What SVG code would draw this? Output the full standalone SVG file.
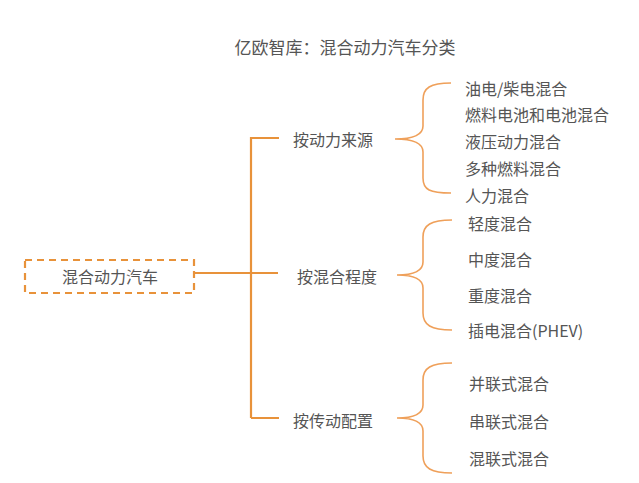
<svg xmlns="http://www.w3.org/2000/svg" width="639" height="483" viewBox="0 0 639 483">
<style>
text{font-family:"Noto Sans CJK SC","Noto Sans",sans-serif;fill:#555;font-size:16px;dominant-baseline:central}
.title{font-size:17px}
.trunk{fill:none;stroke:#E8923A;stroke-width:2.2}
.brace{fill:none;stroke:#EFA05A;stroke-width:1.6}
.box{fill:none;stroke:#E8923A;stroke-width:2.2;stroke-dasharray:7 5}
</style>
<rect width="639" height="483" fill="#fff"/>
<text class="title" x="345" y="46" text-anchor="middle">亿欧智库：混合动力汽车分类</text>
<g id="connectors">
<path class="trunk" d="M194 273H251M251 137V418M251 138H279M251 273H278M251 418H279"/>
<path class="brace" d="M451 83C430 83 423 88 423 100V126C423 134 415 139 395 139C415 139 423 144 423 152V178C423 190 430 193 451 193"/>
<path class="brace" d="M452 220C431 220 423 225 423 237V262C423 270 416 275 397 275C416 275 423 280 423 288V313C423 325 431 330 452 330"/>
<path class="brace" d="M452 363C431 363 423 368 423 380V405C423 413 416 418 397 418C416 418 423 423 423 431V456C423 468 431 473 452 473"/>
</g>
<g id="root"><rect class="box" x="25" y="260" width="169" height="33"/><text x="110" y="276" text-anchor="middle">混合动力汽车</text></g>
<g id="cat1"><text x="293" y="139">按动力来源</text></g>
<g id="cat2"><text x="297" y="276">按混合程度</text></g>
<g id="cat3"><text x="293" y="420">按传动配置</text></g>
<g id="c1a"><text x="465" y="88">油电/柴电混合</text></g>
<g id="c1b"><text x="465" y="114">燃料电池和电池混合</text></g>
<g id="c1c"><text x="465" y="141">液压动力混合</text></g>
<g id="c1d"><text x="465" y="168">多种燃料混合</text></g>
<g id="c1e"><text x="465" y="195">人力混合</text></g>
<g id="c2a"><text x="468" y="223">轻度混合</text></g>
<g id="c2b"><text x="468" y="259">中度混合</text></g>
<g id="c2c"><text x="468" y="295">重度混合</text></g>
<g id="c2d"><text x="468" y="330">插电混合(PHEV)</text></g>
<g id="c3a"><text x="469" y="383">并联式混合</text></g>
<g id="c3b"><text x="469" y="421">串联式混合</text></g>
<g id="c3c"><text x="469" y="458">混联式混合</text></g>
</svg>
